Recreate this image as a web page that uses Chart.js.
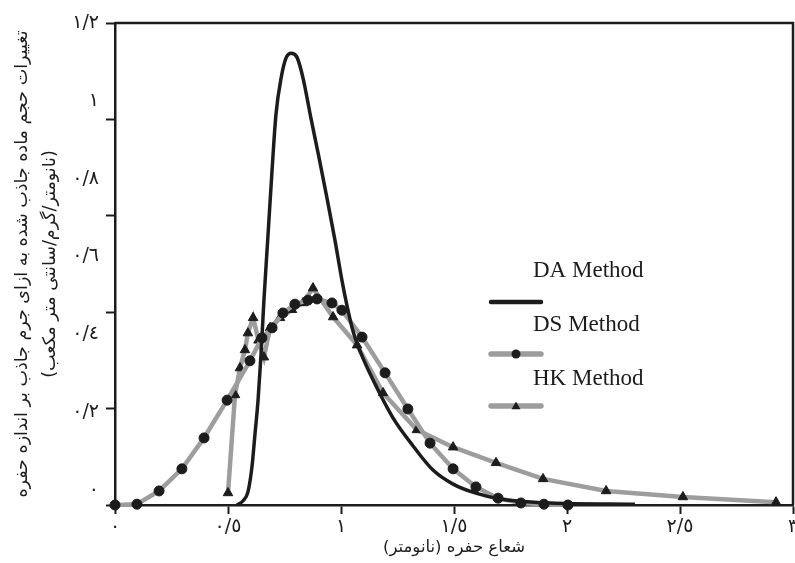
<!DOCTYPE html>
<html lang="fa">
<head>
<meta charset="utf-8">
<script src="https://cdn.jsdelivr.net/npm/chart.js@4.4.0/dist/chart.umd.min.js"></script>
<style>
  html, body { margin: 0; padding: 0; background: #fff; overflow: hidden; }
  #wrap { width: 810px; height: 563px; }
</style>
</head>
<body>
<div id="wrap"><canvas id="poreChart" width="810" height="563" dir="rtl"></canvas></div>
<script>
    // DA Method (منحنی پیوسته)
    const daX = [0.540, 0.566, 0.588, 0.606, 0.619, 0.633, 0.646, 0.659, 0.677, 0.695, 0.712, 0.735, 0.757, 0.779,
                 0.805, 0.832, 0.867, 0.903, 0.938, 0.973, 1.004, 1.027, 1.053, 1.088, 1.142, 1.230, 1.319, 1.407,
                 1.496, 1.593, 1.704, 1.925, 2.301];
    const daY = [0, 0.010, 0.032, 0.095, 0.174, 0.261, 0.373, 0.510, 0.672, 0.834, 0.971, 1.063, 1.113, 1.125,
                 1.115, 1.063, 0.963, 0.864, 0.764, 0.660, 0.560, 0.495, 0.433, 0.378, 0.311, 0.217, 0.147, 0.087,
                 0.052, 0.030, 0.015, 0.005, 0.002];

    // DS Method (دایره)
    const dsX = [0, 0.097, 0.195, 0.296, 0.394, 0.496, 0.597, 0.650, 0.695, 0.743, 0.796, 0.854, 0.894, 0.960, 1.004,
                 1.093, 1.195, 1.296, 1.394, 1.496, 1.597, 1.695, 1.796, 1.898, 2.004];
    const dsY = [0, 0.002, 0.035, 0.090, 0.167, 0.261, 0.359, 0.416, 0.441, 0.478, 0.500, 0.510, 0.513, 0.503, 0.485,
                 0.418, 0.329, 0.239, 0.154, 0.090, 0.045, 0.017, 0.005, 0.002, 0];

    // HK Method (مثلث)
    const hkX = [0.500, 0.531, 0.553, 0.575, 0.588, 0.611, 0.635, 0.659, 0.686, 0.730, 0.783, 0.832, 0.876, 0.965,
                 1.071, 1.186, 1.336, 1.496, 1.686, 1.894, 2.173, 2.513, 2.925];
    const hkY = [0.030, 0.274, 0.341, 0.386, 0.428, 0.466, 0.410, 0.368, 0.441, 0.466, 0.486, 0.503, 0.540, 0.468,
                 0.398, 0.279, 0.187, 0.144, 0.105, 0.065, 0.035, 0.020, 0.007];

    // برچسب‌ها و خط‌های محورها
    const xTickValues = [0, 0.5, 1, 1.5, 2, 2.5, 3];
    const xTickLabels = ['٠', '٠/٥', '١', '١/٥', '٢', '٢/٥', '٣'];
    const yTickValues = [0, 0.2, 0.4, 0.6, 0.8, 1, 1.2];
    const yTickLabels = ['٠', '٠/٢', '٠/٤', '٠/٦', '٠/٨', '١', '١/٢'];
    const yMarkValues = [0, 0.24, 0.48, 0.72, 0.96, 1.2];
    const yLabelMin = -0.0385;

    const arabicFont = "'DejaVu Sans', sans-serif";
    const latinFont = "'Liberation Serif', 'DejaVu Serif', serif";
    const ink = '#1c1c1c';
    const gray = '#9d9d9d';

    const toPoints = (xs, ys) => xs.map((x, i) => ({ x: x, y: ys[i] }));

    // قاب بالا و راست
    const frame = {
        id: 'frame',
        afterDatasetsDraw(chart) {
            const { ctx, chartArea: a } = chart;
            ctx.save();
            ctx.strokeStyle = ink;
            ctx.lineWidth = 2.5;
            ctx.beginPath();
            ctx.moveTo(a.left, a.top);
            ctx.lineTo(a.right, a.top);
            ctx.lineTo(a.right, a.bottom);
            ctx.stroke();
            ctx.restore();
        }
    };

    // راهنما: متن بالا، نمونه خط زیر آن
    const stackedLegend = {
        id: 'stackedLegend',
        afterDraw(chart) {
            const ctx = chart.ctx;
            ctx.save();
            chart.data.datasets.forEach((ds, i) => {
                const textY = 277 + i * 54;
                const lineY = 302 + i * 52;
                ctx.font = '23px ' + latinFont;
                ctx.fillStyle = ink;
                ctx.textAlign = 'left';
                ctx.textBaseline = 'alphabetic';
                ctx.fillText(ds.label, 533, textY);

                ctx.strokeStyle = ds.borderColor;
                ctx.lineWidth = ds.borderWidth + 1;
                ctx.lineCap = 'round';
                ctx.beginPath();
                ctx.moveTo(491, lineY);
                ctx.lineTo(541, lineY);
                ctx.stroke();

                if (ds.pointRadius > 0) {
                    const r = 4.5;
                    ctx.fillStyle = ds.pointBackgroundColor;
                    ctx.beginPath();
                    if (ds.pointStyle === 'triangle') {
                        ctx.moveTo(516, lineY - r);
                        ctx.lineTo(516 + r, lineY + r * 0.7);
                        ctx.lineTo(516 - r, lineY + r * 0.7);
                        ctx.closePath();
                    } else {
                        ctx.arc(516, lineY, r, 0, Math.PI * 2);
                    }
                    ctx.fill();
                }
            });
            ctx.restore();
        }
    };

    const config = {
        type: 'line',
        data: {
            datasets: [
                {
                    label: 'DA Method',
                    data: toPoints(daX, daY),
                    borderColor: ink,
                    borderWidth: 3.5,
                    pointRadius: 0,
                    cubicInterpolationMode: 'monotone',
                    fill: false,
                    clip: false
                },
                {
                    label: 'DS Method',
                    data: toPoints(dsX, dsY),
                    borderColor: gray,
                    borderWidth: 4.5,
                    pointStyle: 'circle',
                    pointRadius: 5,
                    pointBackgroundColor: ink,
                    pointBorderColor: ink,
                    pointBorderWidth: 1,
                    tension: 0,
                    fill: false,
                    clip: false
                },
                {
                    label: 'HK Method',
                    data: toPoints(hkX, hkY),
                    borderColor: gray,
                    borderWidth: 4.5,
                    pointStyle: 'triangle',
                    pointRadius: 5.5,
                    pointBackgroundColor: ink,
                    pointBorderColor: ink,
                    pointBorderWidth: 1,
                    tension: 0,
                    fill: false,
                    clip: false
                }
            ]
        },
        options: {
            responsive: false,
            animation: false,
            events: [],
            layout: { padding: { top: 23, right: 17, bottom: 0, left: 0 } },
            plugins: {
                legend: { display: false },
                tooltip: { enabled: false }
            },
            scales: {
                x: {
                    type: 'linear',
                    min: 0,
                    max: 3,
                    afterBuildTicks: s => { s.ticks = xTickValues.map(v => ({ value: v })); },
                    afterFit: s => { s.height = 58; },
                    ticks: {
                        callback: (v, i) => xTickLabels[i],
                        font: { family: arabicFont, size: 19 },
                        color: ink,
                        padding: 2,
                        maxRotation: 0,
                        autoSkip: false
                    },
                    grid: { drawOnChartArea: false, tickLength: 9, tickWidth: 2, tickColor: ink },
                    border: { color: ink, width: 2.5 },
                    title: {
                        display: true,
                        text: 'شعاع حفره (نانومتر)',
                        font: { family: arabicFont, size: 16.5, lineHeight: 1.4 },
                        color: ink,
                        padding: { top: 0, bottom: 4 }
                    }
                },
                y: {
                    type: 'linear',
                    position: 'left',
                    weight: 0,
                    min: 0,
                    max: 1.2,
                    afterBuildTicks: s => { s.ticks = yMarkValues.map(v => ({ value: v })); },
                    afterFit: s => { s.width = 9; },
                    ticks: { display: false },
                    grid: { drawOnChartArea: false, tickLength: 9, tickWidth: 2, tickColor: ink },
                    border: { color: ink, width: 2.5 }
                },
                yLabels: {
                    type: 'linear',
                    position: 'left',
                    weight: 1,
                    min: yLabelMin,
                    max: 1.2,
                    afterBuildTicks: s => { s.ticks = yTickValues.map(v => ({ value: v })); },
                    afterFit: s => { s.width = 106; },
                    ticks: {
                        callback: (v, i) => yTickLabels[i],
                        font: { family: arabicFont, size: 19 },
                        color: ink,
                        padding: 7
                    },
                    grid: { display: false, drawTicks: false },
                    border: { display: false },
                    title: {
                        display: true,
                        text: ['تغییرات حجم ماده جاذب شده به ازای جرم جاذب بر اندازه حفره',
                               '(نانومتر/گرم/سانتی متر مکعب)'],
                        font: { family: arabicFont, size: 17.5, lineHeight: 1.6 },
                        color: ink,
                        padding: { top: 8, bottom: 0 }
                    }
                }
            }
        },
        plugins: [frame, stackedLegend]
    };

    const ctx = document.getElementById('poreChart').getContext('2d');
    new Chart(ctx, config);
</script>
</body>
</html>
